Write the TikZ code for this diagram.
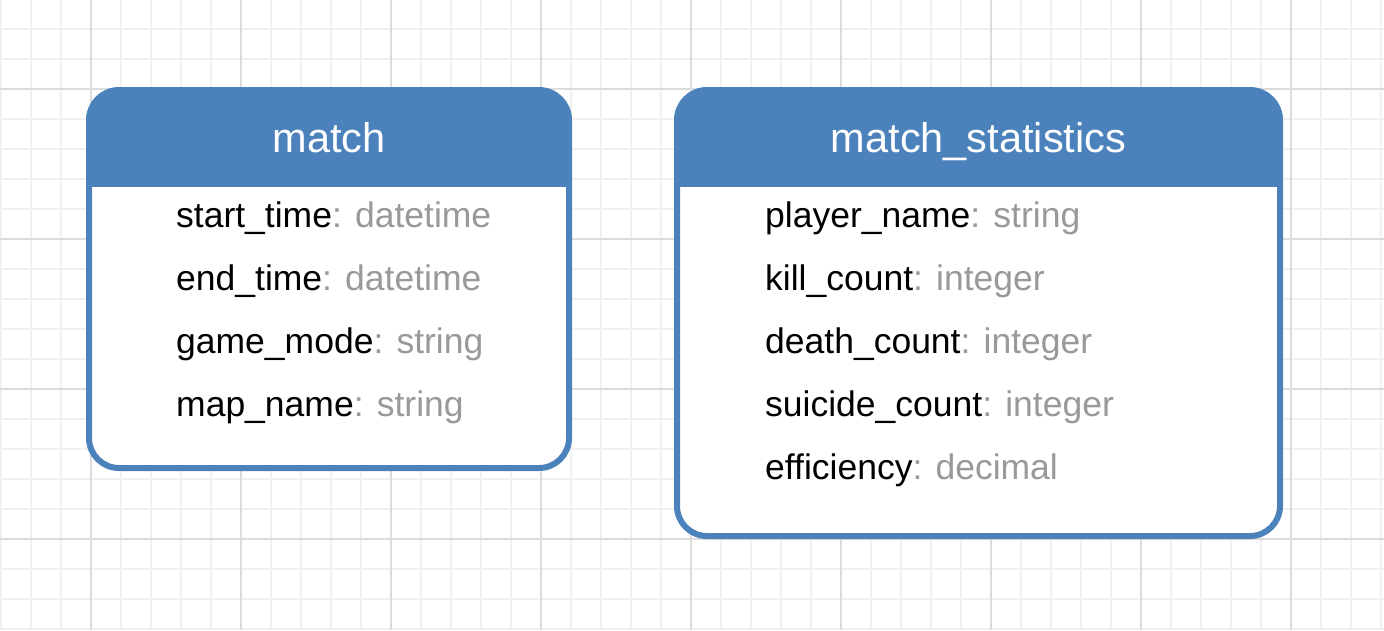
\documentclass[tikz,border=0pt]{standalone}
\usepackage{fontspec}
\setmainfont{Liberation Sans}
\definecolor{erblue}{HTML}{4B82BB}
\definecolor{typegray}{HTML}{999999}
\definecolor{gridminor}{HTML}{F0F0F0}
\definecolor{gridmajor}{HTML}{DCDCDC}
\newcommand{\ty}[1]{\textcolor{typegray}{#1}}
\begin{document}
\begin{tikzpicture}[x=1pt,y=-1pt,
  hdr/.style={anchor=base,inner sep=0,text=white,font=\fontsize{41.5}{48}\selectfont},
  row/.style={anchor=base west,inner sep=0,text=black,font=\fontsize{35.5}{42}\selectfont},
  boxline/.style={draw=erblue,line width=6,rounded corners=30},
  minorline/.style={draw=gridminor,line width=2},
  majorline/.style={draw=gridmajor,line width=2}]
\useasboundingbox (0,0) rectangle (1384,630);
\fill[white] (0,0) rectangle (1384,630);
\begin{scope}
\clip (0,0) rectangle (1384,630);
\foreach \i in {0,...,46} \draw[minorline] (0.7+30*\i,0) -- (0.7+30*\i,630);
\foreach \i in {0,...,21} \draw[minorline] (0,-1+30*\i) -- (1384,-1+30*\i);
\foreach \i in {-1,...,8} \draw[majorline] (90.7+150*\i,0) -- (90.7+150*\i,630);
\foreach \i in {0,...,3} \draw[majorline] (0,89+150*\i) -- (1384,89+150*\i);
\end{scope}
% match box
\fill[white,rounded corners=30] (89,90) rectangle (569,468);
\begin{scope}
\clip (0,0) rectangle (1384,186);
\fill[erblue,rounded corners=30] (89,90) rectangle (569,468);
\end{scope}
\draw[boxline] (89,90) rectangle (569,468);
% match_statistics box
\fill[white,rounded corners=30] (677,90) rectangle (1280,536);
\begin{scope}
\clip (0,0) rectangle (1384,186);
\fill[erblue,rounded corners=30] (677,90) rectangle (1280,536);
\end{scope}
\draw[boxline] (677,90) rectangle (1280,536);
% texts
\node[hdr] (mh) at (329,152) {match};
\node[row] (m1) at (176,227.5) {start\_time\ty{: datetime}};
\node[row] (m2) at (176,290.5) {end\_time\ty{: datetime}};
\node[row] (m3) at (176,353.5) {game\_mode\ty{: string}};
\node[row] (m4) at (176,416.5) {map\_name\ty{: string}};
\node[hdr] (sh) at (978.5,152) {match\_statistics};
\node[row] (s1) at (765,227.5) {player\_name\ty{: string}};
\node[row] (s2) at (765,290.5) {kill\_count\ty{: integer}};
\node[row] (s3) at (765,353.5) {death\_count\ty{: integer}};
\node[row] (s4) at (765,416.5) {suicide\_count\ty{: integer}};
\node[row] (s5) at (765,479.5) {efficiency\ty{: decimal}};
\end{tikzpicture}
\end{document}
